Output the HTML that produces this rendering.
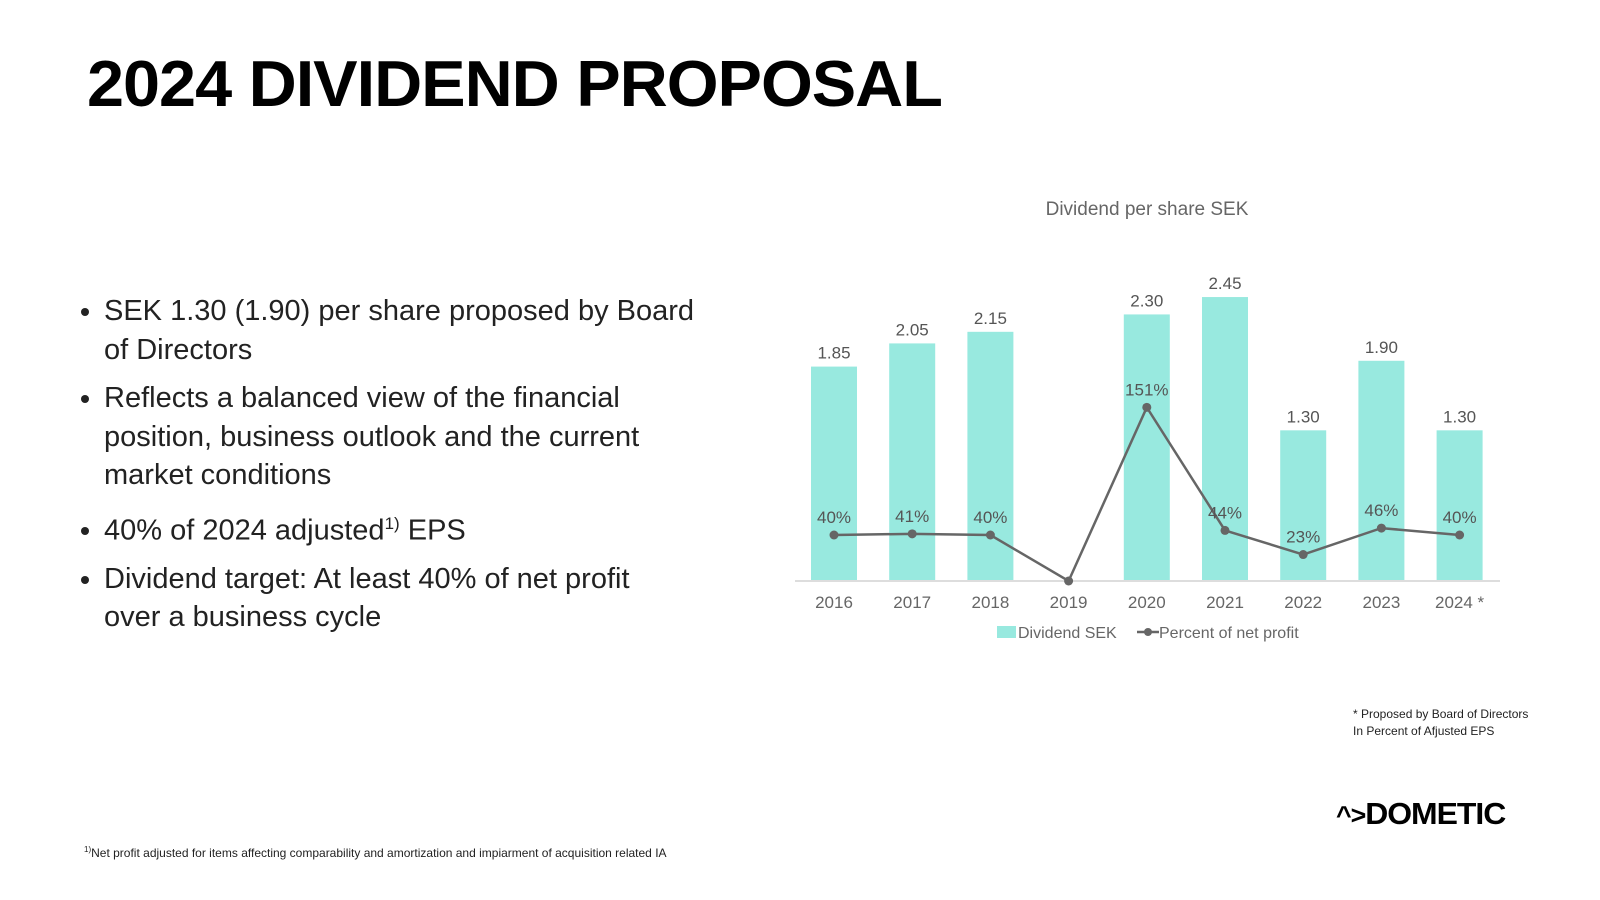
<!DOCTYPE html>
<html><head><meta charset="utf-8"><style>
body{margin:0;width:1600px;height:900px;background:#fff;font-family:"Liberation Sans",sans-serif;overflow:hidden;position:relative}
h1{position:absolute;left:87px;top:46px;margin:0;font-size:65px;font-weight:900;letter-spacing:-1px;color:#000;transform:scaleX(1.025);transform-origin:left top;white-space:nowrap}
ul{position:absolute;left:78px;top:292px;margin:0;padding:0 0 0 26px;width:612px;font-size:29px;line-height:38.5px;color:#222}
li{margin-bottom:10px}
.note{position:absolute;font-size:12px;color:#222}
</style></head><body>
<h1>2024 DIVIDEND PROPOSAL</h1>
<ul>
<li>SEK 1.30 (1.90) per share proposed by Board of Directors</li>
<li>Reflects a balanced view of the financial position, business outlook and the current market conditions</li>
<li>40% of 2024 adjusted<sup style="font-size:17px">1)</sup> EPS</li>
<li>Dividend target: At least 40% of net profit over&nbsp;a business cycle</li>
</ul>
<svg id="chart" width="1600" height="900" style="position:absolute;left:0;top:0" font-family="Liberation Sans, sans-serif"></svg>
<div class="note" style="left:1353px;top:706px;line-height:17px">* Proposed by Board of Directors<br>In Percent of Afjusted EPS</div>
<div style="position:absolute;left:1336px;top:796px;font-size:31px;font-weight:900;letter-spacing:-1px;transform:scaleX(1.03);transform-origin:left top"><span style="font-size:26px">^&gt;</span>DOMETIC</div>
<div class="note" style="left:84px;top:845px"><sup style="font-size:8px">1)</sup>Net profit adjusted for items affecting comparability and amortization and impiarment of acquisition related IA</div>
<script>
const categories=["2016","2017","2018","2019","2020","2021","2022","2023","2024 *"];
const dividend=[1.85,2.05,2.15,null,2.30,2.45,1.30,1.90,1.30];
const dividendLabels=["1.85","2.05","2.15","","2.30","2.45","1.30","1.90","1.30"];
const percent=[40,41,40,0,151,44,23,46,40];
const percentLabels=["40%","41%","40%","","151%","44%","23%","46%","40%"];
const svg=document.getElementById('chart');const NS="http://www.w3.org/2000/svg";
const base=581;
const x=i=>834+78.2*i;
const yD=v=>base-v*115.9;
const yP=v=>base-v*1.15;
function mk(t,a,txt){const e=document.createElementNS(NS,t);for(const k in a)e.setAttribute(k,a[k]);if(txt!=null)e.textContent=txt;svg.appendChild(e);return e;}
let e=mk('text',{x:1147,y:215,'text-anchor':'middle','font-size':19,fill:'#666'},'Dividend per share SEK');

dividend.forEach((v,i)=>{if(v==null)return;
 let r=mk('rect',{x:x(i)-23,y:yD(v),width:46,height:base-yD(v),fill:'#98e9df'});
 
 let t=mk('text',{x:x(i),y:yD(v)-8,'text-anchor':'middle','font-size':17,fill:'#555'},dividendLabels[i]);
 
});
e=mk('line',{x1:795,x2:1500,y1:base,y2:base,stroke:'#ddd','stroke-width':2});

e=mk('polyline',{points:percent.map((v,i)=>x(i)+','+yP(v)).join(' '),fill:'none',stroke:'#666','stroke-width':2.5});

percent.forEach((v,i)=>{
 let c=mk('circle',{cx:x(i),cy:yP(v),r:4.5,fill:'#666'});
 
 if(percentLabels[i]){let t=mk('text',{x:x(i),y:yP(v)-12,'text-anchor':'middle','font-size':17,fill:'#555'},percentLabels[i]);
 }
 let t=mk('text',{x:x(i),y:608,'text-anchor':'middle','font-size':17,fill:'#666'},categories[i]);
 
});
e=mk('rect',{x:997,y:626,width:19,height:12,fill:'#98e9df'});

e=mk('text',{x:1018,y:638,'font-size':16,fill:'#666'},'Dividend SEK');

e=mk('line',{x1:1137,x2:1159,y1:632,y2:632,stroke:'#666','stroke-width':2.5});

e=mk('circle',{cx:1148,cy:632,r:4,fill:'#666'});

e=mk('text',{x:1159,y:638,'font-size':16,fill:'#666'},'Percent of net profit');

</script>
</body></html>
